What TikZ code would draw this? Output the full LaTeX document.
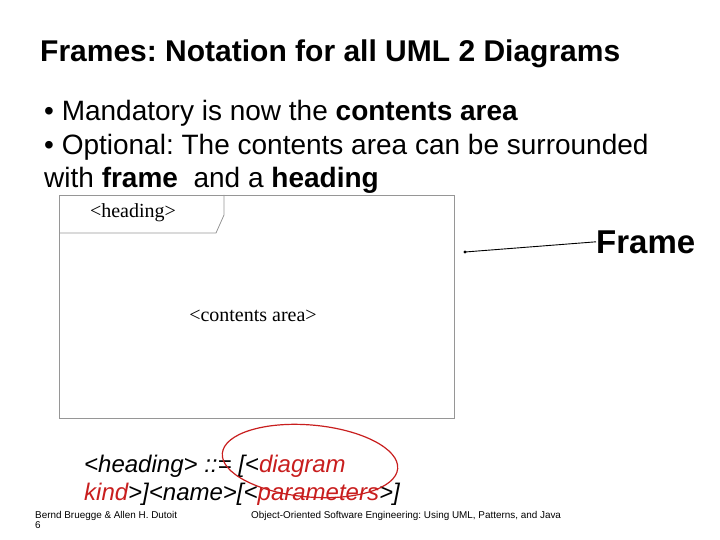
\documentclass[tikz,border=0pt]{standalone}
\usepackage{fontspec}
\setmainfont{Liberation Sans}
\newfontfamily\umlfont{Liberation Serif}
\usepackage{tikz}
\usetikzlibrary{shapes,arrows}
\frenchspacing
\definecolor{framegray}{RGB}{150,150,150}
\definecolor{notered}{RGB}{200,30,30}
\tikzstyle{slidetext}=[anchor=base west, inner sep=0pt, font=\fontsize{28}{32}\selectfont]
\tikzstyle{slidetitle}=[slidetext, font=\fontsize{30}{34}\selectfont\bfseries]
\tikzstyle{umllabel}=[inner sep=0pt, font=\umlfont\fontsize{20}{24}\selectfont]
\tikzstyle{grammar}=[anchor=base west, inner sep=0pt, font=\fontsize{24}{28}\selectfont\itshape]
\tikzstyle{footer}=[anchor=base west, inner sep=0pt, font=\fontsize{9.9}{11}\selectfont]
\newcommand{\red}[1]{\textcolor{notered}{#1}}

\begin{document}
\begin{tikzpicture}[x=1pt, y=-1pt]
\useasboundingbox (0,0) rectangle (720,540);
% Title
\path (40,62) node [slidetitle] (title) {Frames: Notation for all UML 2 Diagrams};
% Bullets
\path (44,121) node [slidetext] (bulletA) {\textbullet\ Mandatory is now the \textbf{contents area}};
\path (44,155) node [slidetext] (bulletB) {\textbullet\ Optional: The contents area can be surrounded};
\path (44,188) node [slidetext] (bulletC) {with \textbf{frame}\ \ and a \textbf{heading}};
% Frame with heading tab
\draw [framegray, line width=0.8pt] (59,195) rectangle (454,418);
\draw [framegray, line width=0.8pt] (59,233) -- (216,233) -- (224,215) -- (224,195);
\path (133,213) node [umllabel] (heading) {<heading>};
\path (253,316) node [umllabel] (contents) {<contents area>};
% Frame label
\path (596,253) node [anchor=base west, inner sep=0pt, font=\fontsize{33}{38}\selectfont\bfseries] (framelabel) {Frame};
\coordinate (pointer) at (465,252);
\fill (pointer) circle (1.6);
\draw [line width=0.9pt] (pointer) -- (framelabel.west);
% Grammar
\path (84,472) node [grammar] (grammarA) {<heading> ::= [<\red{diagram}};
\path (84,500) node [grammar] (grammarB) {\red{kind}>]<name>[<\red{parameters}>]};
\draw [notered, line width=1.2pt, rotate around={-5:(310,461)}] (310,461) ellipse (88 and 36);
% Footer
\path (35,518) node [footer] (authors) {Bernd Bruegge \& Allen H. Dutoit};
\path (35,528) node [footer] (page) {6};
\path (251,518) node [footer] (book) {Object-Oriented Software Engineering: Using UML, Patterns, and Java};
\end{tikzpicture}
\end{document}
